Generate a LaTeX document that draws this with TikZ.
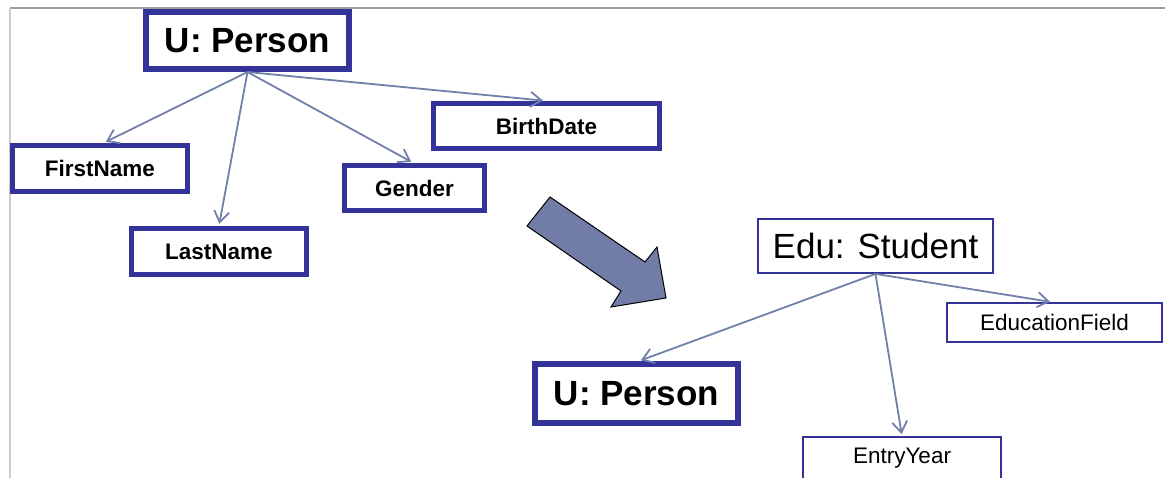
\documentclass[tikz,border=0pt]{standalone}
\usepackage{fontspec}
\setmainfont{Liberation Sans}
\usetikzlibrary{arrows.meta}
\definecolor{boxblue}{HTML}{333399}
\definecolor{linkblue}{HTML}{7080AA}
\definecolor{bigarrow}{HTML}{717DA6}
\tikzset{
  keybox/.style={draw=boxblue, line width=5.5pt, fill=white, inner sep=0pt,
    font=\bfseries\fontsize{22.5}{24}\selectfont},
  bigkeybox/.style={keybox, line width=6pt, font=\bfseries\fontsize{35}{38}\selectfont},
  attrbox/.style={draw=boxblue, line width=1.8pt, fill=white, inner sep=0pt,
    font=\fontsize{22.5}{24}\selectfont},
  bigattrbox/.style={attrbox, font=\fontsize{35}{38}\selectfont},
  link/.style={draw=linkblue, line width=1.8pt,
    -{Straight Barb[length=11pt,width=15pt,line width=1.8pt]}, shorten >=2pt},
}
\begin{document}
\begin{tikzpicture}[x=1pt,y=-1pt]
  \useasboundingbox (0,0) rectangle (1165,477);
  \clip (0,0) rectangle (1165,477);
  % page frame
  \draw[draw=gray!75, line width=1.5pt] (10,8) -- (1166,8);
  \draw[draw=gray!40, line width=1.8pt] (10,8) -- (10,478);

  % source structure
  \node[bigkeybox, minimum width=203pt, minimum height=57pt] (ptop) at (247.5,40.5) {U: Person};
  \node[keybox, minimum width=175pt, minimum height=46pt] (first) at (100,168.5) {FirstName};
  \node[keybox, minimum width=175pt, minimum height=46pt] (last) at (219,251.5) {LastName};
  \node[keybox, minimum width=140pt, minimum height=45pt] (gender) at (414.5,188) {Gender};
  \node[keybox, minimum width=226pt, minimum height=45pt] (birth) at (546.5,126) {BirthDate};

  \draw[link] (ptop.south) -- ([xshift=4pt]first.north);
  \draw[link] (ptop.south) -- (last.north);
  \draw[link] (ptop.south) -- ([xshift=-1.5pt]gender.north);
  \draw[link] (ptop.south) -- ([xshift=-1.5pt]birth.north);

  % transformation arrow
  \filldraw[fill=bigarrow, draw=black, line width=1pt, line join=miter]
    (550,197) -- (645,262) -- (657,247) -- (666,298) -- (611,307)
    -- (621,291) -- (527,226) -- cycle;

  % target structure
  \node[bigattrbox, minimum width=235pt, minimum height=54pt] (student) at (875.5,246) {Edu: Student};
  \node[attrbox, minimum width=215pt, minimum height=39pt] (field) at (1054.5,322.5) {EducationField};
  \node[attrbox, minimum width=198pt, minimum height=43pt] (entry) at (902,458.5) {EntryYear};
  \node[bigkeybox, minimum width=203pt, minimum height=59pt] (pbot) at (636.5,393.5) {U: Person};

  \draw[link] (student.south) -- ([xshift=2.5pt]pbot.north);
  \draw[link] (student.south) -- (entry.north);
  \draw[link] (student.south) -- ([xshift=-2.5pt]field.north);
\end{tikzpicture}
\end{document}
